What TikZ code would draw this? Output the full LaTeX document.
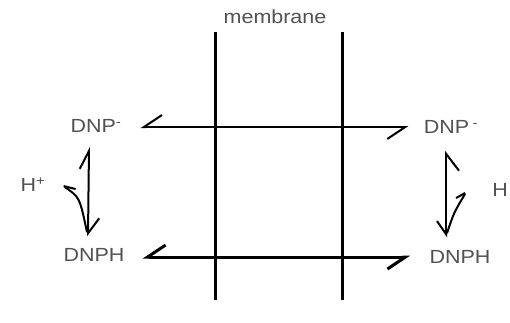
\documentclass[tikz,border=0pt]{standalone}
\usepackage{fontspec}
\usepackage{graphicx}
\setmainfont{Liberation Sans}
\usetikzlibrary{arrows.meta,calc}
\newcommand\sx[1]{\scalebox{1.13}[1]{#1}}
\begin{document}
\begin{tikzpicture}[x=1pt,y=-1pt,
  lbl/.style={text=black!68, font=\fontsize{19}{19}\selectfont, inner sep=0pt},
  memlbl/.style={text=black!68, font=\fontsize{19}{19}\selectfont, inner sep=0pt},
  memline/.style={line width=3pt},
  hbarb/.style={{Straight Barb[harpoon,swap,length=18pt,width=24pt]}-{Straight Barb[harpoon,swap,length=18pt,width=24pt]}},
  vbarbL/.style={{Straight Barb[harpoon,length=18pt,width=18pt]}-{Straight Barb[harpoon,length=15pt,width=22pt]}},
  vbarbR/.style={{Straight Barb[harpoon,swap,length=17pt,width=26pt]}-{Straight Barb[harpoon,swap,length=13pt,width=18pt]}},
  eq/.style={line width=2pt},
]
\useasboundingbox (0,0) rectangle (510,322);
% membrane
\coordinate (m1t) at (215,32); \coordinate (m1b) at (215,300);
\coordinate (m2t) at (342,32); \coordinate (m2b) at (342,300);
\draw[memline] (m1t) -- (m1b);
\draw[memline] (m2t) -- (m2b);
\node[memlbl] (mem) at (275,17) {\sx{membrane}};
% labels
\node[lbl] (dnpL) at (96,126) {\sx{DNP\textsuperscript{-}}};
\node[lbl] (dnphL) at (94,255) {\sx{DNPH}};
\node[lbl] (dnpR) at (451,127) {\sx{DNP\,\textsuperscript{-}}};
\node[lbl] (dnphR) at (460,257) {\sx{DNPH}};
\node[lbl] (hL) at (33,185) {\sx{H\textsuperscript{+}}};
\node[lbl] (hR) at (500,190) {\sx{H}};
% horizontal equilibria
\draw[eq, hbarb] ($(dnpL.east)+(19,1)$) -- ($(dnpR.west)+(-15,0)$);
\draw[line width=3pt, hbarb] ($(dnphL.east)+(18,2)$) -- ($(dnphR.west)+(-19,0)$);
% left vertical
\draw[eq, vbarbL] ($(dnpL.south)+(-7,14)$) -- ($(dnphL.north)+(-6,-12)$);
\draw[eq] ($(hL.east)+(18,1)$) -- ($(hL.east)+(30,4)$);
\draw[eq] ($(hL.east)+(19,2)$) .. controls ($(hL.east)+(34,12)$) .. ($(dnphL.north)+(-7,-16)$);
% right vertical
\draw[eq, vbarbR] ($(dnpR.south)+(-5,17)$) -- ($(dnphR.north)+(-14,-13)$);
\draw[eq] ($(dnphR.north)+(-13,-17)$) .. controls ($(dnphR.north)+(-6,-38)$) .. ($(hR.west)+(-27,4)$);
\draw[eq] ($(hR.west)+(-36,8)$) -- ($(hR.west)+(-27,3)$);
\end{tikzpicture}
\end{document}
